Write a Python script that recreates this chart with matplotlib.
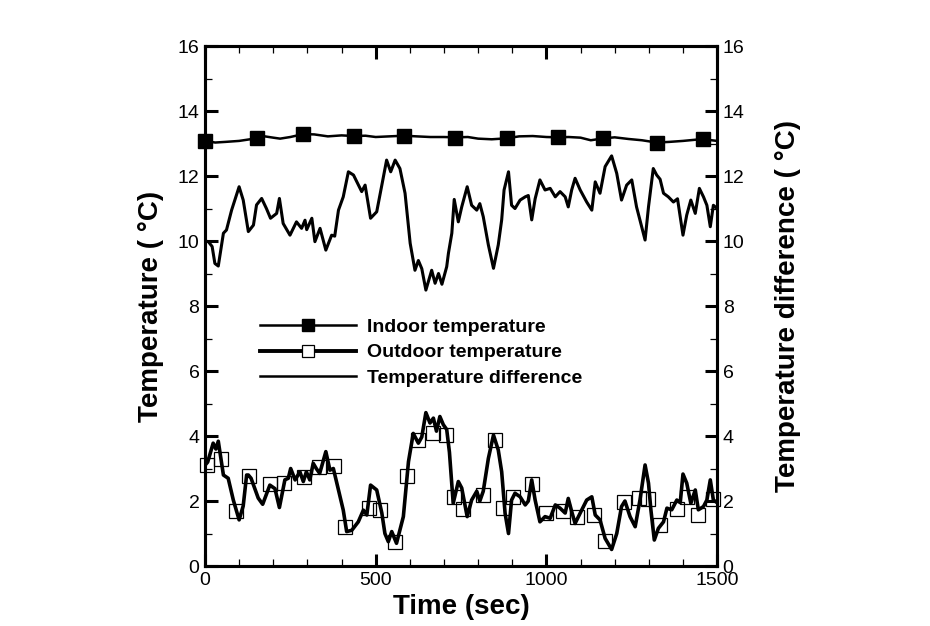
import matplotlib
matplotlib.use("Agg")
import matplotlib.pyplot as plt
from matplotlib.lines import Line2D
from matplotlib.ticker import MultipleLocator

plt.rcParams['font.family'] = ['Liberation Sans', 'DejaVu Sans']

# ---- data ----
indoor_t = [0, 30, 60, 100, 151, 175, 200, 220, 250, 288, 320, 360, 400, 437, 470, 500, 540, 583,
            620, 660, 700, 732, 770, 800, 840, 884, 920, 960, 1000, 1035, 1065, 1100, 1130, 1167,
            1200, 1240, 1280, 1323, 1360, 1400, 1440, 1460, 1500]
indoor_v = [13.08, 13.03, 13.05, 13.08, 13.16, 13.22, 13.18, 13.15, 13.2, 13.29, 13.28, 13.22, 13.25,
            13.23, 13.24, 13.2, 13.22, 13.24, 13.22, 13.2, 13.2, 13.19, 13.2, 13.15, 13.13, 13.16,
            13.22, 13.23, 13.2, 13.19, 13.2, 13.18, 13.1, 13.16, 13.19, 13.14, 13.1, 13.03, 13.05,
            13.08, 13.12, 13.13, 13.08]
indoor_mark_t = [0, 151, 288, 437, 583, 732, 884, 1035, 1167, 1323, 1460]
indoor_mark_v = [13.09, 13.16, 13.29, 13.23, 13.24, 13.18, 13.16, 13.19, 13.16, 13.03, 13.13]

outdoor_t = [0, 8, 24, 32, 39, 54, 68, 83, 100, 112, 122, 127, 135, 156, 169, 190, 205, 218, 234,
             244, 251, 264, 278, 288, 297, 307, 317, 326, 336, 354, 366, 376, 391, 405, 415, 430,
             449, 464, 474, 485, 503, 518, 527, 537, 547, 561, 581, 596, 610, 625, 635, 647, 659,
             669, 678, 688, 698, 708, 716, 727, 742, 752, 768, 781, 796, 805, 815, 830, 845, 859,
             869, 879, 889, 898, 908, 923, 938, 947, 957, 967, 981, 996, 1011, 1026, 1040, 1055,
             1064, 1074, 1084, 1099, 1118, 1133, 1143, 1157, 1172, 1191, 1206, 1220, 1230, 1245,
             1260, 1274, 1289, 1299, 1306, 1316, 1328, 1343, 1353, 1367, 1382, 1392, 1400, 1411,
             1423, 1436, 1445, 1460, 1470, 1480, 1489, 1500]
outdoor_v = [3.1, 3.2, 3.78, 3.6, 3.84, 2.8, 2.7, 2.03, 1.42, 1.85, 2.8, 2.8, 2.7, 2.09, 1.9, 2.49,
             2.38, 1.8, 2.65, 2.7, 3.0, 2.65, 2.9, 2.6, 2.9, 2.65, 3.16, 3.0, 2.85, 3.52, 2.95, 3.0,
             2.34, 1.72, 1.06, 1.1, 1.36, 1.72, 1.57, 2.49, 2.34, 1.63, 1.0, 0.75, 1.06, 0.7, 1.52,
             3.21, 4.08, 3.78, 3.97, 4.72, 4.4, 4.55, 4.15, 4.6, 4.35, 4.2, 3.5, 1.93, 2.6, 2.4,
             1.52, 2.03, 2.3, 2.0, 2.3, 3.31, 4.03, 3.57, 2.9, 1.62, 1.0, 2.03, 2.24, 2.13, 1.88,
             2.0, 2.65, 2.03, 1.36, 1.52, 1.47, 1.88, 1.78, 1.63, 2.08, 1.68, 1.31, 1.63, 2.03,
             2.13, 1.57, 1.42, 0.85, 0.51, 1.0, 1.83, 2.0, 1.52, 1.21, 2.03, 3.11, 2.55, 1.73, 0.8,
             1.16, 1.36, 1.78, 1.73, 2.03, 1.95, 2.83, 2.55, 1.93, 2.34, 1.73, 1.83, 2.03, 2.65,
             2.03, 1.95]
outdoor_mark_t = [5, 47, 90, 130, 190, 232, 291, 335, 379, 410, 479, 513, 557, 593, 625, 669, 706,
                  728, 757, 815, 850, 874, 903, 957, 998, 1050, 1089, 1140, 1172, 1226, 1270, 1299,
                  1333, 1382, 1411, 1445, 1489]
outdoor_mark_v = [3.1, 3.28, 1.69, 2.77, 2.52, 2.57, 2.73, 3.04, 3.08, 1.19, 1.79, 1.72, 0.75, 2.77,
                  3.88, 4.08, 4.03, 2.13, 1.75, 2.18, 3.88, 1.8, 2.13, 2.52, 1.64, 1.69, 1.5, 1.57,
                  0.77, 1.98, 2.08, 2.06, 1.26, 1.74, 2.13, 1.57, 2.05]

diff_t = [0, 10, 21, 29, 39, 54, 63, 78, 100, 112, 127, 142, 151, 166, 180, 192, 210, 218, 229, 249,
          268, 283, 293, 298, 313, 322, 337, 354, 371, 380, 391, 405, 420, 435, 459, 469, 485, 503,
          518, 532, 544, 557, 571, 586, 601, 615, 625, 635, 647, 664, 674, 684, 694, 708, 713, 723,
          730, 742, 752, 768, 781, 796, 805, 815, 830, 845, 859, 869, 876, 889, 898, 908, 923, 938,
          947, 957, 967, 981, 996, 1011, 1026, 1040, 1055, 1064, 1074, 1084, 1099, 1118, 1133,
          1143, 1157, 1172, 1191, 1206, 1220, 1235, 1250, 1264, 1279, 1289, 1299, 1313, 1323, 1333,
          1343, 1357, 1372, 1384, 1400, 1411, 1423, 1436, 1448, 1460, 1470, 1480, 1489, 1500]
diff_v = [10.0, 9.98, 9.83, 9.31, 9.23, 10.24, 10.34, 10.95, 11.67, 11.26, 10.29, 10.49, 11.11,
          11.31, 11.0, 10.7, 10.85, 11.31, 10.54, 10.18, 10.59, 10.39, 10.64, 10.35, 10.7, 9.98,
          10.39, 9.72, 10.18, 10.15, 10.95, 11.36, 12.13, 12.03, 11.52, 11.72, 10.7, 10.9, 11.72,
          12.49, 12.13, 12.49, 12.23, 11.47, 9.93, 9.1, 9.4, 9.15, 8.49, 9.1, 8.7, 9.0, 8.67, 9.21,
          9.62, 10.24, 11.28, 10.59, 11.05, 11.67, 11.1, 10.95, 11.15, 10.75, 9.88, 9.16, 9.88,
          10.65, 11.57, 12.13, 11.1, 11.0, 11.26, 11.36, 11.4, 10.65, 11.3, 11.88, 11.57, 11.62,
          11.36, 11.52, 11.36, 11.05, 11.57, 11.93, 11.57, 11.2, 10.95, 11.82, 11.47, 12.29, 12.62,
          12.08, 11.26, 11.72, 11.88, 11.05, 10.44, 10.03, 11.05, 12.23, 12.03, 11.9, 11.47, 11.36,
          11.2, 11.3, 10.18, 10.8, 11.26, 10.85, 11.62, 11.36, 11.1, 10.44, 11.1, 11.0]

labels = ["Indoor temperature", "Outdoor temperature", "Temperature difference"]

# ---- figure ----
fig = plt.figure(figsize=(9.3, 6.26), dpi=100)
ax = fig.add_axes([0.2204, 0.0958, 0.5507, 0.8307])
ax2 = ax.twinx()

ax.plot(indoor_t, indoor_v, color='black', lw=1.8, zorder=3)
ax.plot(indoor_mark_t, indoor_mark_v, ls='none', marker='s', ms=9.5, mfc='black', mec='black',
        clip_on=False, zorder=4)
ax.plot(outdoor_t, outdoor_v, color='black', lw=2.6, zorder=3)
ax.plot(outdoor_mark_t, outdoor_mark_v, ls='none', marker='s', ms=9.5, mfc='none', mec='black',
        mew=0.9, clip_on=False, zorder=4)
ax2.plot(diff_t, diff_v, color='black', lw=2.2, zorder=3)

for a in (ax, ax2):
    a.set_xlim(0, 1500)
    a.set_ylim(0, 16)
    for s in a.spines.values():
        s.set_linewidth(2.2)

ax.xaxis.set_major_locator(MultipleLocator(500))
ax.xaxis.set_minor_locator(MultipleLocator(100))
ax.yaxis.set_major_locator(MultipleLocator(2))
ax.yaxis.set_minor_locator(MultipleLocator(1))
ax2.yaxis.set_major_locator(MultipleLocator(2))
ax2.yaxis.set_minor_locator(MultipleLocator(1))

ax.tick_params(axis='both', which='major', direction='in', length=9, width=2.2, labelsize=14,
               top=True, pad=4)
ax.tick_params(axis='both', which='minor', direction='in', length=5, width=0.9, top=True)
ax.tick_params(axis='y', which='both', right=False)
ax2.tick_params(axis='y', which='major', direction='in', length=9, width=2.2, labelsize=14, pad=4)
ax2.tick_params(axis='y', which='minor', direction='in', length=5, width=0.9)

ax.set_xlabel("Time (sec)", fontsize=20, fontweight='bold', labelpad=4)
ax.set_ylabel("Temperature ( °C)", fontsize=20, fontweight='bold', labelpad=10)
ax2.set_ylabel("Temperature difference ( °C)", fontsize=20, fontweight='bold', labelpad=22)

handles = [
    Line2D([], [], color='black', lw=1.8, marker='s', ms=9, mfc='black', mec='black'),
    Line2D([], [], color='black', lw=2.8, marker='s', ms=9, mfc='white', mec='black', mew=0.9),
    Line2D([], [], color='black', lw=1.8),
]
leg = ax.legend(handles, labels, loc='upper left', bbox_to_anchor=(0.108, 0.477), frameon=False,
                numpoints=1, handlelength=4.9, handletextpad=0.6, labelspacing=0.42,
                prop={'weight': 'bold', 'size': 14}, borderpad=0, borderaxespad=0)

fig.savefig("out.png", dpi=100)
